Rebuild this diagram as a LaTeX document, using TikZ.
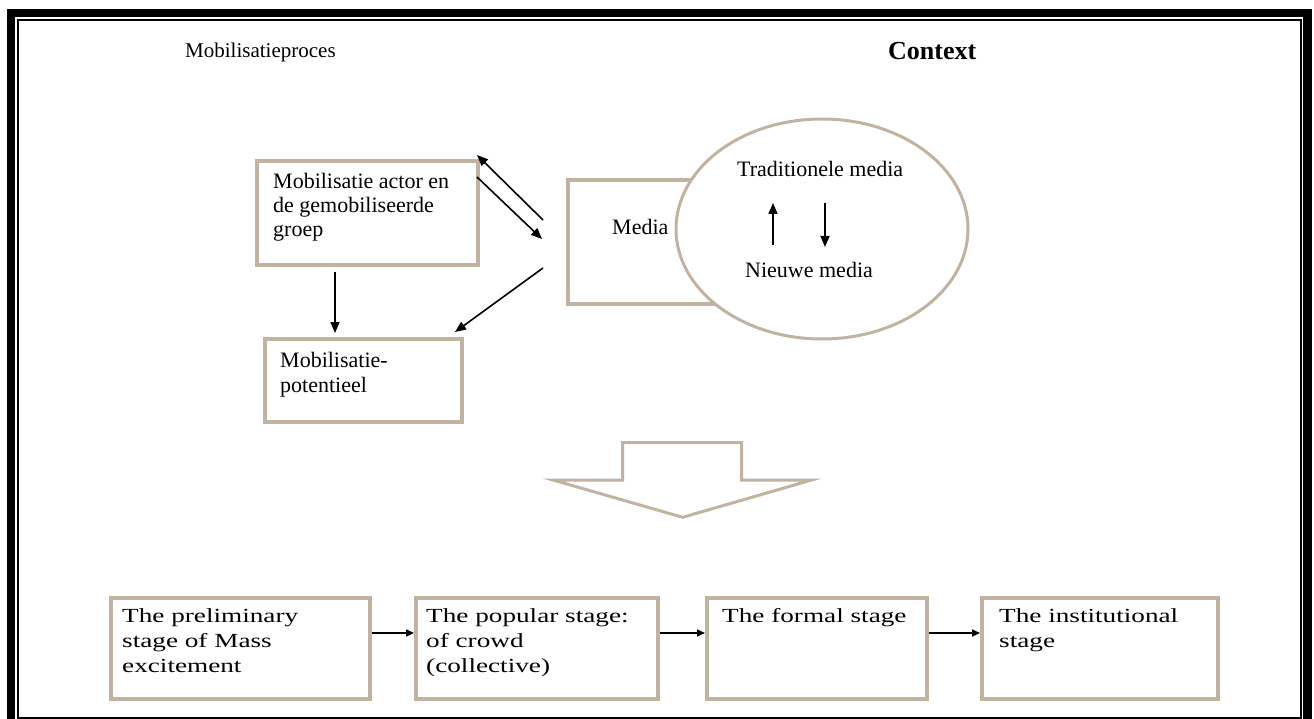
\documentclass[tikz,border=0pt]{standalone}
\usepackage{fontspec}
\setmainfont{Liberation Serif}
\newfontfamily\widefont[FakeStretch=1.36]{Liberation Serif}
\usetikzlibrary{arrows.meta}
\definecolor{tanc}{RGB}{194,178,160}
\begin{document}
\begin{tikzpicture}[x=1pt,y=-1pt,
  tanbox/.style={draw=tanc, line width=3.6pt, inner sep=0pt, anchor=north west},
  lbl/.style={anchor=base west, inner sep=0pt, font=\fontsize{22}{24}\selectfont},
  blbl/.style={anchor=base west, inner sep=0pt, font=\widefont\fontsize{20}{25}\selectfont},
  conn/.style={line width=1.6pt, -{Triangle[length=11pt,width=9pt]}},
  sconn/.style={line width=1.6pt, -{Triangle[length=8pt,width=7pt]}},
]
\useasboundingbox (0,0) rectangle (1314,719);
% frame
\draw[line width=8.3pt, miter limit=10] (11,719) -- (11,13.2) -- (1307.5,13.2) -- (1307.5,719);
\draw[line width=2pt] (18,20) rectangle (1301,718);

% headings
\node[lbl, font=\fontsize{21}{24}\selectfont] (h1) at (185,58) {Mobilisatieproces};
\node[lbl, font=\bfseries\fontsize{26}{28}\selectfont] (h2) at (888,60) {Context};

% upper boxes
\node[tanbox, minimum width=221pt, minimum height=104pt] (actor) at (255,159) {};
\node[lbl] (actort) at (273,189) {\begin{tabular}[t]{@{}l@{}}Mobilisatie actor en\\de gemobiliseerde\\groep\end{tabular}};
\node[tanbox, minimum width=197pt, minimum height=83pt] (pot) at (263,337) {};
\node[lbl, font=\fontsize{22}{25}\selectfont] (pott) at (280,367) {\begin{tabular}[t]{@{}l@{}}Mobilisatie-\\potentieel\end{tabular}};
\node[tanbox, minimum width=180pt, minimum height=124pt] (media) at (566,178) {};
\node[lbl] (mediat) at (612,235) {Media};

% context ellipse
\node[draw=tanc, fill=white, line width=3pt, shape=circle, inner sep=0pt, minimum size=220pt, xscale=146/110] (ctx) at (822,229) {};
\node[lbl] (trad) at (737,177) {Traditionele media};
\node[lbl] (nieuw) at (745,277) {Nieuwe media};
\coordinate (u1) at (773,245); \coordinate (u2) at (773,203);
\coordinate (d1) at (825,203); \coordinate (d2) at (825,247);
\draw[conn] (u1) -- (u2);
\draw[conn] (d1) -- (d2);

% upper connectors
\coordinate (m1) at (543,220); \coordinate (a1) at (477,155);
\coordinate (a2) at (477,177); \coordinate (m2) at (542,239);
\coordinate (m3) at (543,268); \coordinate (p1) at (455,332);
\coordinate (a3) at (335,272); \coordinate (p2) at (335,333);
\draw[conn] (m1) -- (a1);
\draw[conn] (a2) -- (m2);
\draw[conn] (m3) -- (p1);
\draw[conn] (a3) -- (p2);

% block arrow
\draw[draw=tanc, line width=3pt, fill=white] (622.7,442.7) -- (741.7,442.7) -- (741.7,480) -- (811.7,480) -- (682.7,517.3) -- (553,480) -- (622.7,480) -- cycle;

% bottom stages
\node[tanbox, minimum width=259pt, minimum height=101pt] (s1) at (109,596) {};
\node[tanbox, minimum width=242pt, minimum height=101pt] (s2) at (414,596) {};
\node[tanbox, minimum width=220pt, minimum height=101pt] (s3) at (705,596) {};
\node[tanbox, minimum width=236pt, minimum height=101pt] (s4) at (980,596) {};
\node[blbl] (s1t) at (122,622) {\begin{tabular}[t]{@{}l@{}}The preliminary\\stage of Mass\\excitement\end{tabular}};
\node[blbl] (s2t) at (426,622) {\begin{tabular}[t]{@{}l@{}}The popular stage:\\of crowd\\(collective)\end{tabular}};
\node[blbl] (s3t) at (722,622) {The formal stage};
\node[blbl] (s4t) at (999,622) {\begin{tabular}[t]{@{}l@{}}The institutional\\stage\end{tabular}};
\draw[sconn] (s1.east |- 0,633) -- (s2.west |- 0,633);
\draw[sconn] (s2.east |- 0,633) -- (s3.west |- 0,633);
\draw[sconn] (s3.east |- 0,633) -- (s4.west |- 0,633);
\end{tikzpicture}
\end{document}
